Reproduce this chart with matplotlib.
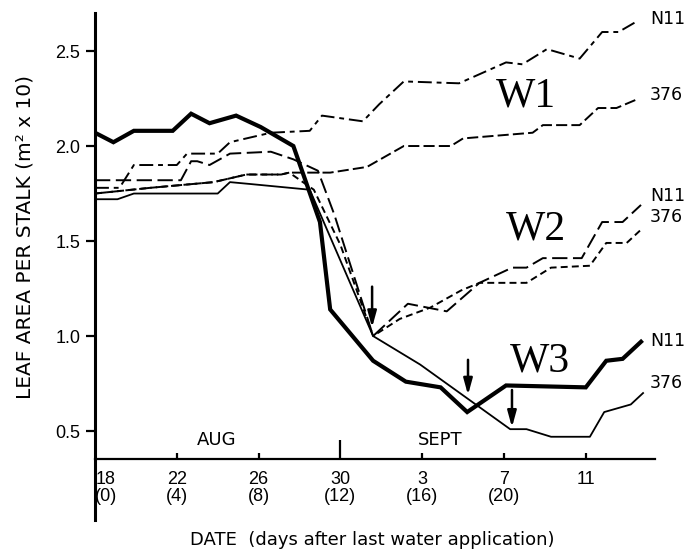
import matplotlib
matplotlib.use("Agg")
import matplotlib.pyplot as plt
from matplotlib.transforms import ScaledTranslation

plt.rcParams['font.family'] = ['Liberation Sans', 'DejaVu Sans']
plt.rcParams['lines.scale_dashes'] = False

# ---------------- data (days after last water application, leaf area) ----------------
w1_n11_days = [0, 1.2, 1.9, 4.0, 4.5, 6.0, 6.6, 8.6, 10.5, 11.1, 13.1, 13.9, 15.1, 17.8, 20.1, 20.9, 22.1, 23.7, 24.8, 25.6, 26.4]
w1_n11_vals = [1.78, 1.78, 1.90, 1.90, 1.96, 1.96, 2.02, 2.07, 2.08, 2.16, 2.13, 2.22, 2.34, 2.33, 2.44, 2.43, 2.51, 2.46, 2.60, 2.60, 2.65]

w1_376_days = [0, 2.7, 5.8, 7.4, 9.1, 9.5, 11.5, 13.3, 15.1, 17.4, 18.0, 21.4, 21.9, 23.7, 24.6, 25.5, 26.6]
w1_376_vals = [1.75, 1.78, 1.81, 1.85, 1.85, 1.86, 1.86, 1.89, 2.00, 2.00, 2.04, 2.07, 2.11, 2.11, 2.20, 2.20, 2.25]

w2_n11_days = [0, 4.2, 4.7, 5.0, 5.6, 6.6, 8.6, 9.7, 10.9, 11.7, 13.6, 15.3, 17.2, 18.8, 20.4, 21.1, 21.9, 23.8, 24.8, 25.8, 26.7]
w2_n11_vals = [1.82, 1.82, 1.92, 1.92, 1.90, 1.96, 1.97, 1.93, 1.87, 1.64, 1.00, 1.17, 1.13, 1.28, 1.36, 1.36, 1.41, 1.41, 1.60, 1.60, 1.69]

w2_376_days = [0, 2.7, 5.8, 7.4, 9.1, 9.5, 10.7, 12.0, 13.6, 14.9, 16.4, 17.9, 18.8, 19.8, 21.1, 22.3, 24.2, 25.0, 26.0, 26.7]
w2_376_vals = [1.75, 1.78, 1.81, 1.85, 1.85, 1.86, 1.77, 1.48, 1.00, 1.09, 1.15, 1.24, 1.28, 1.28, 1.28, 1.36, 1.37, 1.49, 1.49, 1.56]

w3_n11_days = [0, 0.9, 1.9, 3.8, 4.7, 5.6, 6.9, 8.1, 9.7, 11.0, 11.5, 13.6, 15.2, 16.9, 18.2, 20.1, 24.0, 25.0, 25.8, 26.7]
w3_n11_vals = [2.07, 2.02, 2.08, 2.08, 2.17, 2.12, 2.16, 2.10, 2.00, 1.60, 1.14, 0.87, 0.76, 0.73, 0.60, 0.74, 0.73, 0.87, 0.88, 0.97]

w3_376_days = [0, 1.1, 1.9, 6.0, 6.6, 7.6, 10.5, 13.6, 15.9, 20.3, 21.1, 22.3, 24.2, 24.9, 26.2, 26.8]
w3_376_vals = [1.72, 1.72, 1.75, 1.75, 1.81, 1.80, 1.77, 1.00, 0.85, 0.51, 0.51, 0.47, 0.47, 0.60, 0.64, 0.70]

x_ticks = [0, 4, 8, 12, 16, 20, 24]
x_tick_labels = ['18\n(0)', '22\n(4)', '26\n(8)', '30\n(12)', '3\n(16)', '7\n(20)', '11']
y_ticks = [0.5, 1.0, 1.5, 2.0, 2.5]
y_tick_labels = ['0.5', '1.0', '1.5', '2.0', '2.5']

# arrows marking re-watering: (day, tail value, tip value)
arrow_days = [13.55, 18.24, 20.39]
arrow_tails = [1.26, 0.875, 0.716]
arrow_tips = [1.045, 0.69, 0.52]

treatment_labels = ['W1', 'W2', 'W3']
treatment_pos = [(21.08, 2.26), (21.57, 1.56), (21.76, 0.87)]
end_labels = ['N11', '376', 'N11', '376', 'N11', '376']
end_label_vals = [2.668, 2.268, 1.737, 1.626, 0.974, 0.753]
month_labels = ['AUG', 'SEPT']
month_pos = [(5.97, 0.453), (16.87, 0.453)]

# ---------------- figure ----------------
fig = plt.figure(figsize=(6.85, 5.51), dpi=100)
ax = fig.add_axes([95 / 685, 1 - 520 / 551, (655 - 95) / 685, 507 / 551])

ax.plot(w1_n11_days, w1_n11_vals, color='k', lw=1.4, linestyle=(0, (10, 3.5, 3.5, 3.5)))
ax.plot(w1_376_days, w1_376_vals, color='k', lw=1.4, linestyle=(0, (8, 3)))
ax.plot(w2_n11_days, w2_n11_vals, color='k', lw=1.4, linestyle=(0, (11, 4)))
ax.plot(w2_376_days, w2_376_vals, color='k', lw=1.4, linestyle=(0, (5, 3)))
ax.plot(w3_n11_days, w3_n11_vals, color='k', lw=3.0, solid_joinstyle='miter')
ax.plot(w3_376_days, w3_376_vals, color='k', lw=1.3)

for d, t0, t1 in zip(arrow_days, arrow_tails, arrow_tips):
    ax.annotate('', xy=(d, t1), xytext=(d, t0),
                arrowprops=dict(arrowstyle='-|>,head_length=0.8,head_width=0.22',
                                mutation_scale=12, lw=1.8, color='k',
                                shrinkA=0, shrinkB=0))

for lab, (x, y) in zip(treatment_labels, treatment_pos):
    ax.text(x, y, lab, fontsize=30, family='Liberation Serif', ha='center', va='center')

for lab, y in zip(end_labels, end_label_vals):
    ax.text(27.14, y, lab, fontsize=12.5, family='DejaVu Sans', ha='left', va='center', clip_on=False)

for lab, (x, y) in zip(month_labels, month_pos):
    ax.text(x, y, lab, fontsize=13, family='DejaVu Sans', ha='center', va='center')

ax.set_xlim(0, (655 - 95) / 20.45)
ax.set_ylim(0.032, 2.70)

for s in ['top', 'right']:
    ax.spines[s].set_visible(False)
ax.spines['bottom'].set_position(('data', 0.353))
ax.spines['left'].set_linewidth(2.2)
ax.spines['bottom'].set_linewidth(1.6)

ax.set_xticks(x_ticks)
ax.set_xticklabels(x_tick_labels, fontsize=13, linespacing=1.05)
ax.set_yticks(y_ticks)
ax.set_yticklabels(y_tick_labels, fontsize=13)
ax.tick_params(axis='x', direction='in', length=4, width=1.6, pad=8.5)
ax.tick_params(axis='y', direction='out', length=6.5, width=1.6, pad=4)

xt = ax.xaxis.get_major_ticks()
xt[0].tick1line.set_visible(False)
xt[3].tick1line.set_markersize(14)
first = ax.get_xticklabels()[0]
first.set_transform(first.get_transform() + ScaledTranslation(11 / 100, 0, fig.dpi_scale_trans))

fig.text(372 / 685, 1 - 540 / 551, 'DATE  (days after last water application)',
         fontsize=13, family='DejaVu Sans', ha='center', va='center')
fig.text(25 / 685, 1 - 237 / 551, 'LEAF AREA PER STALK (m² x 10)',
         fontsize=14.5, family='DejaVu Sans', ha='center', va='center', rotation=90)

fig.savefig('out.png', dpi=100)
